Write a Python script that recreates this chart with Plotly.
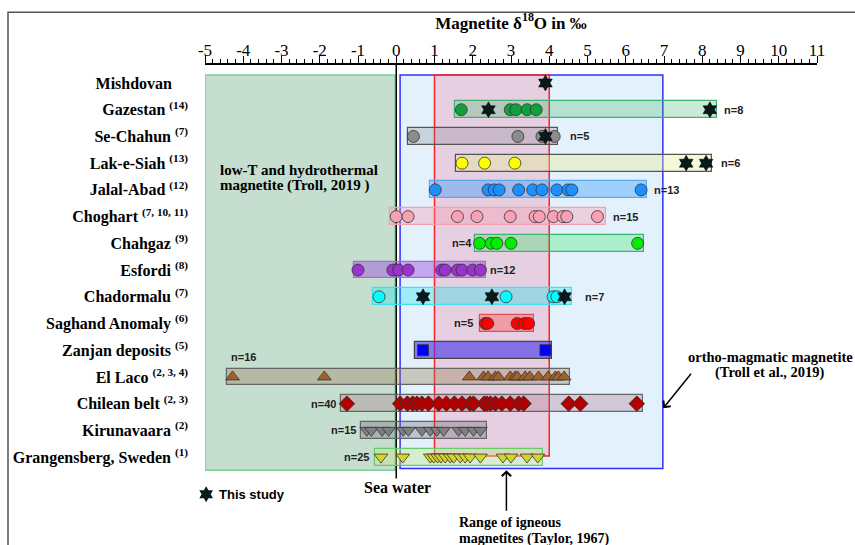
import plotly.graph_objects as go

# ---------------- data ----------------
site_labels = [
    "<b>Mishdovan</b>&nbsp;&nbsp;&nbsp;&nbsp;",
    "<b>Gazestan <sup>(14)</sup></b>",
    "<b>Se-Chahun <sup>(7)</sup></b>",
    "<b>Lak-e-Siah <sup>(13)</sup></b>",
    "<b>Jalal-Abad <sup>(12)</sup></b>",
    "<b>Choghart <sup>(7, 10, 11)</sup></b>",
    "<b>Chahgaz <sup>(9)</sup></b>",
    "<b>Esfordi <sup>(8)</sup></b>",
    "<b>Chadormalu <sup>(7)</sup></b>",
    "<b>Saghand Anomaly <sup>(6)</sup></b>",
    "<b>Zanjan deposits <sup>(5)</sup></b>",
    "<b>El Laco <sup>(2, 3, 4)</sup></b>",
    "<b>Chilean belt <sup>(2, 3)</sup></b>",
    "<b>Kirunavaara <sup>(2)</sup></b>",
    "<b>Grangensberg, Sweden <sup>(1)</sup></b>",
]
rows = list(range(len(site_labels)))

# ranges (bars) for rows 1..14
bar_rows = [1, 2, 3, 4, 5, 6, 7, 8, 9, 10, 11, 12, 13, 14]
bar_start = [1.54, 0.31, 1.57, 0.87, -0.17, 2.05, -1.10, -0.60, 2.18, 0.50, -4.43, -1.45, -0.92, -0.55]
bar_end = [8.39, 4.24, 8.26, 6.55, 5.49, 6.47, 2.35, 4.60, 3.61, 4.08, 4.55, 6.45, 2.37, 3.84]
bar_fill = ["rgba(60,180,100,0.28)", "rgba(120,120,130,0.25)", "rgba(230,240,150,0.38)",
            "rgba(30,144,255,0.35)", "rgba(250,150,170,0.35)", "rgba(0,230,60,0.25)",
            "rgba(150,60,220,0.40)", "rgba(0,230,240,0.30)", "rgba(255,60,60,0.35)",
            "rgba(80,60,230,0.65)", "rgba(150,120,80,0.35)", "rgba(170,110,130,0.30)",
            "rgba(110,110,120,0.35)", "rgba(200,230,140,0.40)"]
bar_line = ["#3cb371", "#555555", "#555555", "#5aaaf0", "#f4a0b0", "#3cb371", "#a070d0",
            "#40e0f0", "#e05050", "#444444", "#666666", "#666666", "#666666", "#66cc66"]

gazestan = [1.70, 2.98, 3.13, 3.42, 3.66]
se_chahun = [0.45, 3.18, 3.81, 4.13]
lak_e_siah = [1.72, 2.31, 3.10]
jalal_abad = [1.02, 2.40, 2.56, 2.69, 3.20, 3.57, 3.81, 4.20, 4.49, 4.59, 6.40]
choghart = [0.0, 0.31, 1.60, 2.11, 2.98, 3.63, 3.74, 4.11, 4.36, 4.46, 5.26]
chahgaz = [2.18, 2.48, 2.63, 3.00, 6.31]
esfordi = [-1.0, -0.09, 0.06, 0.31, 1.19, 1.28, 1.60, 1.72, 2.0, 2.2]
chadormalu = [-0.45, 2.87, 4.10, 4.20]
saghand = [2.33, 2.39, 3.16, 3.35, 3.46]
zanjan = [0.70, 3.90]
el_laco = [-4.28, -1.88, 1.91, 2.28, 2.40, 2.59, 2.67, 2.98, 3.11, 3.17, 3.37, 3.49,
           3.72, 3.97, 4.16, 4.24, 4.39]
chilean = [-1.29, 0.10, 0.29, 0.43, 0.54, 0.67, 0.84, 1.11, 1.31, 1.52, 1.72, 1.93, 2.02,
           2.30, 2.37, 2.46, 2.59, 2.76, 2.98, 3.20, 3.33, 4.51, 4.81, 6.29]
kirunavaara = [-0.77, -0.65, -0.37, -0.20, 0.18, 0.32, 0.67, 0.89, 1.06, 1.24, 1.63,
               1.80, 2.02, 2.20]
grangensberg = [-0.40, 0.17, 0.89, 0.98, 1.08, 1.17, 1.28, 1.41, 1.50, 1.67, 1.80, 1.93,
                2.20, 2.79, 3.00, 3.42, 3.70]

# this study (stars): (row, value)
star_rows = [0, 1, 1, 2, 3, 3, 8, 8, 8]
star_vals = [3.90, 2.41, 8.20, 3.90, 7.58, 8.10, 0.70, 2.50, 4.40]

# n labels
n_text = ["n=8", "n=5", "n=6", "n=13", "n=15", "n=4", "n=12", "n=7", "n=5", "n=16",
          "n=40", "n=15", "n=25"]
n_rows = [1, 2, 3, 4, 5, 6, 7, 8, 9, 10.25, 12, 13, 14]
n_x = [8.52, 4.50, 8.44, 6.68, 5.62, 2.02, 2.41, 4.88, 2.05, -4.38, -1.52, -1.01, -0.65]
n_anchor = ["left", "left", "left", "left", "left", "right", "left", "left", "right",
            "left", "right", "right", "right"]

x_ticks = list(range(-5, 12))
x_ticktext = [str(v) for v in x_ticks]

# reference ranges
lowT_range = [-5.0, -0.03]
ortho_range = [0.10, 6.97]
taylor_range = [1.0, 4.0]

SERIF = "Liberation Serif"
SANS = "Liberation Sans"

fig = go.Figure()

# bars
fig.add_trace(go.Bar(
    orientation="h", y=bar_rows, base=bar_start,
    x=[e - s for s, e in zip(bar_start, bar_end)],
    width=0.63,
    marker=dict(color=bar_fill, line=dict(color=bar_line, width=1.2)),
    hoverinfo="skip", showlegend=False,
))

series = [
    (1, gazestan, "circle", "#12a03c", 12),
    (2, se_chahun, "circle", "#8c8c8c", 12),
    (3, lak_e_siah, "circle", "#ffff00", 12),
    (4, jalal_abad, "circle", "#1e8fff", 12),
    (5, choghart, "circle", "#f7a1b6", 12),
    (6, chahgaz, "circle", "#00ee00", 12),
    (7, esfordi, "circle", "#9933cc", 12),
    (8, chadormalu, "circle", "#00ffff", 12),
    (9, saghand, "circle", "#ff0000", 12),
    (10, zanjan, "square", "#0000ff", 11),
    (11, el_laco, "triangle-up", "#a0622d", 12),
    (12, chilean, "diamond", "#b00000", 12),
    (13, kirunavaara, "triangle-down", "#7f7f7f", 12),
    (14, grangensberg, "triangle-down", "#d4d42a", 12),
]
for r, vals, sym, col, sz in series:
    fig.add_trace(go.Scatter(
        x=vals, y=[r] * len(vals), mode="markers",
        marker=dict(symbol=sym, color=col, size=sz, line=dict(color="#333333", width=0.8)),
        showlegend=False, hoverinfo="skip",
    ))

fig.add_trace(go.Scatter(
    x=star_vals, y=star_rows, mode="markers",
    marker=dict(symbol="hexagram", color="#0a1a1a", size=12, line=dict(color="#000", width=0.5)),
    showlegend=False, hoverinfo="skip",
))
# legend star
fig.add_trace(go.Scatter(
    x=[-4.97], y=[15.39], mode="markers", cliponaxis=False,
    marker=dict(symbol="hexagram", color="#0a1a1a", size=12),
    showlegend=False, hoverinfo="skip",
))

shapes = [
    dict(type="rect", xref="x", yref="y", x0=lowT_range[0], x1=lowT_range[1], y0=-0.30, y1=14.49,
         fillcolor="#c5decf", line=dict(color="#7ccf95", width=1.5), layer="below"),
    dict(type="rect", xref="x", yref="y", x0=ortho_range[0], x1=ortho_range[1], y0=-0.30, y1=14.43,
         fillcolor="#e3f1fc", line=dict(color="#3030ff", width=1.5), layer="below"),
    dict(type="rect", xref="x", yref="y", x0=taylor_range[0], x1=taylor_range[1], y0=-0.30, y1=13.96,
         fillcolor="rgba(235,130,160,0.30)", line=dict(color="#ff2020", width=1.5), layer="below"),
    dict(type="line", xref="x", yref="y", x0=0, x1=0, y0=-0.674, y1=14.8,
         line=dict(color="black", width=1.5), layer="below"),
    dict(type="rect", xref="paper", yref="paper", x0=-0.3219, x1=1.08, y0=-0.2, y1=1.11,
         line=dict(color="#555555", width=1.5), fillcolor="rgba(0,0,0,0)"),
]

ann = []
for t, r, xv, anc in zip(n_text, n_rows, n_x, n_anchor):
    ann.append(dict(x=xv, y=r, text="<b>" + t + "</b>", showarrow=False, xanchor=anc,
                    yanchor="middle", font=dict(family=SANS, size=11, color="#222")))

def txt(x, y, s, size, anchor="left", fam=SERIF):
    return dict(x=x, y=y, text=s, showarrow=False, xanchor=anchor, yanchor="middle",
                font=dict(family=fam, size=size, color="black"))

ann += [
    txt(-4.66, 3.27, "<b>low-T and hydrothermal</b>", 15),
    txt(-4.66, 3.85, "<b>magnetite (Troll, 2019 )</b>", 15),
    txt(9.78, 10.26, "<b>ortho-magmatic magnetite</b>", 14.5, "center"),
    txt(9.78, 10.85, "<b>(Troll et al., 2019)</b>", 14.5, "center"),
    txt(0.03, 15.13, "<b>Sea water</b>", 16, "center"),
    txt(1.60, 16.46, "<b>Range of igneous</b>", 14),
    txt(1.60, 17.07, "<b>magnetites (Taylor, 1967)</b>", 14),
    txt(-4.68, 15.39, "<b>This study</b>", 13, "left", SANS),
    dict(x=6.98, y=12.17, ax=29, ay=-36, text="", showarrow=True, arrowhead=4,
         arrowsize=1.2, arrowwidth=1.5, arrowcolor="black"),
    dict(x=2.88, y=14.49, ax=0, ay=42, text="", showarrow=True, arrowhead=4,
         arrowsize=1.2, arrowwidth=1.5, arrowcolor="black"),
]

fig.update_layout(
    width=855, height=545,
    margin=dict(l=205, r=38, t=65, b=0),
    plot_bgcolor="white", paper_bgcolor="white",
    showlegend=False, bargap=0,
    shapes=shapes, annotations=ann,
    xaxis=dict(
        range=[-5, 11], side="top", tickvals=x_ticks, ticktext=x_ticktext,
        ticks="outside", ticklen=7,
        tickcolor="black", tickwidth=1, ticklabelstandoff=-7,
        minor=dict(dtick=0.2, ticks="outside", ticklen=4, tickcolor="black", tickwidth=1),
        showline=True, linecolor="black", linewidth=1.5, showgrid=False, zeroline=False,
        tickfont=dict(family=SERIF, size=17, color="black"),
        title=dict(text="<b>Magnetite δ<sup>18</sup>O in ‰</b>", standoff=8,
                   font=dict(family=SERIF, size=17, color="black")),
    ),
    yaxis=dict(
        range=[17.29, -0.674], tickvals=rows, ticktext=site_labels, ticks="",
        showline=False, showgrid=False, zeroline=False, ticklabelstandoff=16,
        tickfont=dict(family=SERIF, size=16, color="black"),
    ),
)

fig.write_html("out.html")
